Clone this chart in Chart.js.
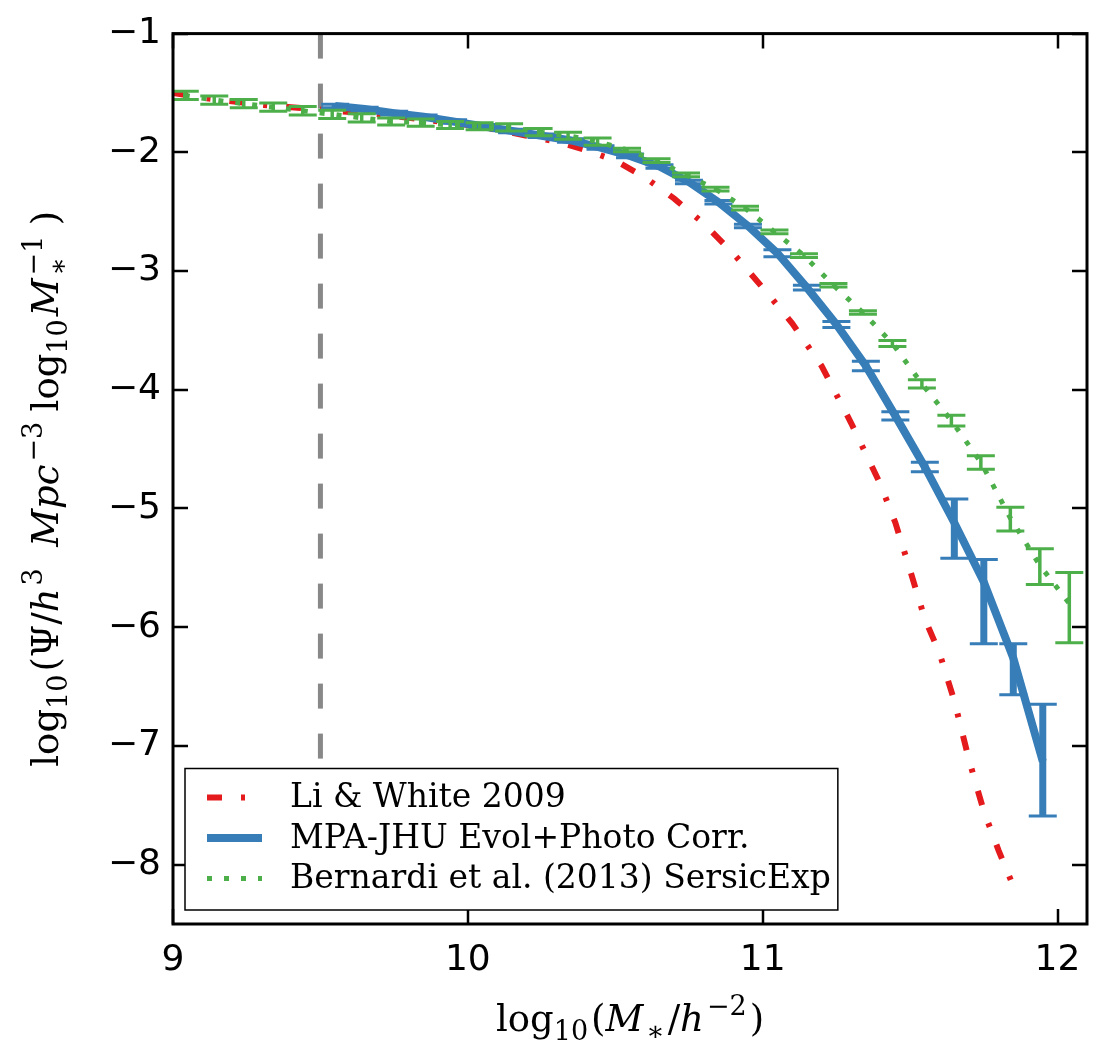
<!DOCTYPE html>
<html>
<head>
<meta charset="utf-8">
<script src="https://cdn.jsdelivr.net/npm/chart.js@4.4.1/dist/chart.umd.min.js"></script>
<style>
  html, body { margin: 0; padding: 0; background: #fff; }
  canvas { display: block; }
</style>
</head>
<body>
<canvas id="smfChart" width="1096" height="1048"></canvas>
<script>
// Li & White (2009) fit
var liWhiteX = [9.0, 9.1, 9.2, 9.3, 9.4, 9.5, 9.6, 9.7, 9.8, 9.9, 10.0, 10.1, 10.2, 10.3, 10.4, 10.5,
    10.6, 10.7, 10.8, 10.9, 11.0, 11.1, 11.2, 11.3, 11.4, 11.45, 11.5, 11.55, 11.6, 11.65, 11.7, 11.75, 11.8, 11.85];
var liWhiteY = [-1.50, -1.54, -1.57, -1.60, -1.62, -1.64, -1.66, -1.68, -1.71, -1.74, -1.77, -1.81, -1.86, -1.91, -1.98, -2.07,
    -2.21, -2.39, -2.60, -2.85, -3.14, -3.44, -3.80, -4.28, -4.80, -5.12, -5.52, -5.93, -6.22, -6.62, -7.12, -7.55, -7.88, -8.18];

// MPA-JHU with evolution + photometry corrections
var mpaX = [9.55, 9.65, 9.75, 9.85, 9.95, 10.05, 10.15, 10.25, 10.35, 10.45, 10.55, 10.65, 10.75,
    10.85, 10.95, 11.05, 11.15, 11.25, 11.35, 11.45, 11.55, 11.65, 11.75, 11.85, 11.95];
var mpaY = [-1.61, -1.635, -1.67, -1.70, -1.74, -1.78, -1.82, -1.86, -1.90, -1.96, -2.03, -2.12, -2.25,
    -2.42, -2.62, -2.85, -3.14, -3.45, -3.80, -4.22, -4.65, -5.12, -5.62, -6.26, -7.13];
var mpaErrLo = [0.015, 0.015, 0.015, 0.015, 0.015, 0.015, 0.015, 0.015, 0.015, 0.015, 0.015, 0.015, 0.015,
    0.015, 0.015, 0.03, 0.02, 0.025, 0.04, 0.035, 0.04, 0.30, 0.52, 0.31, 0.46];
var mpaErrHi = [0.015, 0.015, 0.015, 0.015, 0.015, 0.015, 0.015, 0.015, 0.015, 0.015, 0.015, 0.015, 0.015,
    0.015, 0.015, 0.03, 0.02, 0.025, 0.04, 0.035, 0.04, 0.20, 0.19, 0.12, 0.48];

// Bernardi et al. (2013), SersicExp photometry
var bernardiX = [9.04, 9.14, 9.24, 9.34, 9.44, 9.54, 9.64, 9.74, 9.84, 9.94, 10.04, 10.14, 10.24, 10.34, 10.44, 10.54,
    10.64, 10.74, 10.84, 10.94, 11.04, 11.14, 11.24, 11.34, 11.44, 11.54, 11.64, 11.74, 11.84, 11.94, 12.04];
var bernardiY = [-1.52, -1.56, -1.59, -1.62, -1.65, -1.68, -1.71, -1.74, -1.75, -1.77, -1.78, -1.79, -1.83, -1.86, -1.91, -1.98,
    -2.07, -2.19, -2.31, -2.47, -2.67, -2.87, -3.12, -3.35, -3.61, -3.95, -4.26, -4.61, -5.08, -5.48, -5.80];
var bernardiErrLo = [0.035, 0.035, 0.035, 0.035, 0.035, 0.035, 0.035, 0.03, 0.03, 0.03, 0.03, 0.03, 0.03, 0.03, 0.03, 0.015,
    0.015, 0.015, 0.015, 0.015, 0.015, 0.015, 0.015, 0.015, 0.025, 0.035, 0.045, 0.06, 0.11, 0.16, 0.33];
var bernardiErrHi = [0.035, 0.035, 0.035, 0.035, 0.035, 0.035, 0.035, 0.03, 0.03, 0.03, 0.03, 0.03, 0.03, 0.03, 0.03, 0.015,
    0.015, 0.015, 0.015, 0.015, 0.015, 0.015, 0.015, 0.015, 0.025, 0.035, 0.045, 0.055, 0.09, 0.14, 0.26];

// mass limit marker
var massLimit = 9.5;

// axes
var xMin = 9, xMax = 12.1;
var yMin = -8.5, yMax = -1;
var xTicks = [9, 10, 11, 12];
var xTickLabels = ['9', '10', '11', '12'];
var yTicks = [-8, -7, -6, -5, -4, -3, -2, -1];
var yTickLabels = ['\u22128', '\u22127', '\u22126', '\u22125', '\u22124', '\u22123', '\u22122', '\u22121'];

// math-style axis titles: [text, kind, extra]
var xTitleParts = [['log'], ['10', 'sub'], ['('], ['M', 'it'], ['\u2217', 'sub'], ['/'], ['h', 'it'], ['\u22122', 'sup'], [')']];
var yTitleParts = [['log'], ['10', 'sub'], ['(\u03a8/'], ['h', 'it'], ['3', 'sup'], ['\u2002'], ['Mpc', 'it'], ['\u22123', 'sup'],
    ['\u2009log'], ['10', 'sub'], ['M', 'it'], ['\u2217', 'subsup', '\u22121'], ['\u2009)']];

function points(xs, ys) {
    return xs.map(function (x, i) { return { x: x, y: ys[i] }; });
}

var SERIF = '"DejaVu Serif", "Liberation Serif", serif';

// error bars, drawn right after their own line
var errorBars = {
    id: 'errorBars',
    afterDatasetDraw: function (chart, args) {
        var ds = chart.data.datasets[args.index];
        if (!ds.errLo) return;
        var ctx = chart.ctx, a = chart.chartArea;
        var xs = chart.scales.x, ys = chart.scales.y;
        ctx.save();
        ctx.beginPath();
        ctx.rect(a.left, a.top, a.right - a.left, a.bottom - a.top);
        ctx.clip();
        ctx.strokeStyle = ds.borderColor;
        ds.data.forEach(function (p, i) {
            var px = xs.getPixelForValue(p.x);
            var top = ys.getPixelForValue(p.y + ds.errHi[i]);
            var bot = ys.getPixelForValue(p.y - ds.errLo[i]);
            ctx.lineWidth = ds.errWidth;
            ctx.beginPath();
            ctx.moveTo(px, top);
            ctx.lineTo(px, bot);
            ctx.stroke();
            ctx.lineWidth = ds.capWidth;
            ctx.beginPath();
            ctx.moveTo(px - ds.capHalf, top);
            ctx.lineTo(px + ds.capHalf, top);
            ctx.moveTo(px - ds.capHalf, bot);
            ctx.lineTo(px + ds.capHalf, bot);
            ctx.stroke();
        });
        ctx.restore();
    }
};

// box round the plot with inward ticks on all four sides
var frame = {
    id: 'frame',
    afterDatasetsDraw: function (chart) {
        var ctx = chart.ctx, a = chart.chartArea;
        var xs = chart.scales.x, ys = chart.scales.y;
        var len = 15;
        ctx.save();
        ctx.strokeStyle = '#000';
        ctx.lineWidth = 2.5;
        ctx.beginPath();
        xs.ticks.forEach(function (t) {
            var px = Math.round(xs.getPixelForValue(t.value));
            ctx.moveTo(px, a.bottom);
            ctx.lineTo(px, a.bottom - len);
            ctx.moveTo(px, a.top);
            ctx.lineTo(px, a.top + len);
        });
        ys.ticks.forEach(function (t) {
            var py = Math.round(ys.getPixelForValue(t.value));
            ctx.moveTo(a.left, py);
            ctx.lineTo(a.left + len, py);
            ctx.moveTo(a.right, py);
            ctx.lineTo(a.right - len, py);
        });
        ctx.stroke();
        ctx.lineWidth = 3;
        ctx.strokeRect(a.left, a.top, a.right - a.left, a.bottom - a.top);
        ctx.restore();
    }
};

// draws a run of text pieces with sub/superscripts, returns its width
function drawMath(ctx, parts, size, x, y, measureOnly) {
    var small = Math.round(size * 0.72);
    var gap = size * 0.08;
    var cx = x;
    parts.forEach(function (p) {
        var text = p[0], kind = p[1] || '';
        var dy = 0;
        if (kind === 'sub' || kind === 'subsup') {
            ctx.font = small + 'px ' + SERIF;
            dy = size * 0.24;
        } else if (kind === 'sup') {
            ctx.font = small + 'px ' + SERIF;
            dy = -size * 0.42;
        } else if (kind === 'it') {
            ctx.font = 'italic ' + size + 'px ' + SERIF;
        } else {
            ctx.font = size + 'px ' + SERIF;
        }
        var w = ctx.measureText(text).width;
        if (!measureOnly) ctx.fillText(text, cx, y + dy);
        if (kind === 'subsup') {
            var w2 = ctx.measureText(p[2]).width;
            if (!measureOnly) ctx.fillText(p[2], cx, y - size * 0.42);
            w = Math.max(w, w2);
        }
        cx += w + (kind ? gap : 0);
    });
    return cx - x;
}

var axisTitles = {
    id: 'axisTitles',
    afterDraw: function (chart) {
        var ctx = chart.ctx, a = chart.chartArea;
        var size = 37;
        ctx.save();
        ctx.fillStyle = '#000';
        ctx.textBaseline = 'alphabetic';
        ctx.textAlign = 'left';
        var wx = drawMath(ctx, xTitleParts, size, 0, 0, true);
        drawMath(ctx, xTitleParts, size, (a.left + a.right) / 2 - wx / 2, 1031, false);
        ctx.translate(58, (a.top + a.bottom) / 2 + 10);
        ctx.rotate(-Math.PI / 2);
        var wy = drawMath(ctx, yTitleParts, size, 0, 0, true);
        drawMath(ctx, yTitleParts, size, -wy / 2, 0, false);
        ctx.restore();
    }
};

// legend box in the lower left corner of the plot
var cornerLegend = {
    id: 'cornerLegend',
    afterDraw: function (chart) {
        var ctx = chart.ctx, a = chart.chartArea;
        var items = chart.data.datasets.filter(function (d) { return d.label; });
        var size = 33;
        ctx.save();
        ctx.font = size + 'px ' + SERIF;
        var textW = 0;
        items.forEach(function (d) { textW = Math.max(textW, ctx.measureText(d.label).width); });
        var left = a.left + 12, bottom = a.bottom - 14;
        var rowH = 40.5;
        var height = rowH * items.length + 20;
        var width = 105 + textW + 7;
        var top = bottom - height;
        ctx.fillStyle = '#fff';
        ctx.fillRect(left, top, width, height);
        ctx.strokeStyle = '#000';
        ctx.lineWidth = 1.5;
        ctx.strokeRect(left, top, width, height);
        items.forEach(function (d, i) {
            var cy = top + 29 + i * rowH;
            ctx.save();
            ctx.strokeStyle = d.borderColor;
            ctx.lineWidth = d.borderWidth;
            ctx.setLineDash(d.borderDash || []);
            ctx.beginPath();
            ctx.moveTo(left + 22, cy);
            ctx.lineTo(left + 77, cy);
            ctx.stroke();
            ctx.restore();
            ctx.fillStyle = '#000';
            ctx.textBaseline = 'middle';
            ctx.fillText(d.label, left + 105, cy + 1);
        });
        ctx.restore();
    }
};

var ctx = document.getElementById('smfChart').getContext('2d');
var smfChart = new Chart(ctx, {
    type: 'line',
    data: {
        datasets: [
            {
                label: 'Li & White 2009',
                data: points(liWhiteX, liWhiteY),
                borderColor: '#e41a1c',
                borderWidth: 6,
                borderDash: [15, 19, 4, 19],
                pointRadius: 0,
                order: 3
            },
            {
                label: 'MPA-JHU Evol+Photo Corr.',
                data: points(mpaX, mpaY),
                borderColor: '#377eb8',
                borderWidth: 8,
                pointRadius: 0,
                errLo: mpaErrLo,
                errHi: mpaErrHi,
                errWidth: 7,
                capWidth: 3,
                capHalf: 14,
                order: 2
            },
            {
                label: 'Bernardi et al. (2013) SersicExp',
                data: points(bernardiX, bernardiY),
                borderColor: '#4daf4a',
                borderWidth: 5,
                borderDash: [5, 12],
                pointRadius: 0,
                errLo: bernardiErrLo,
                errHi: bernardiErrHi,
                errWidth: 3.5,
                capWidth: 3,
                capHalf: 14,
                order: 1
            },
            {
                label: '',
                data: [{ x: massLimit, y: yMax }, { x: massLimit, y: yMin }],
                borderColor: '#888888',
                borderWidth: 5,
                borderDash: [25, 25],
                pointRadius: 0,
                order: 4
            }
        ]
    },
    options: {
        responsive: false,
        animation: false,
        devicePixelRatio: 1,
        layout: { padding: { left: 0, right: 9, top: 28, bottom: 0 } },
        plugins: {
            legend: { display: false },
            tooltip: { enabled: false }
        },
        scales: {
            x: {
                type: 'linear',
                min: xMin,
                max: xMax,
                afterBuildTicks: function (scale) {
                    scale.ticks = xTicks.map(function (v) { return { value: v }; });
                },
                afterFit: function (scale) { scale.height = 124; },
                ticks: {
                    color: '#000',
                    padding: 15,
                    maxRotation: 0,
                    font: { family: '"DejaVu Sans", sans-serif', size: 36 },
                    callback: function (value) { return xTickLabels[xTicks.indexOf(value)]; }
                },
                grid: { display: false, drawTicks: false },
                border: { display: false }
            },
            y: {
                type: 'linear',
                min: yMin,
                max: yMax,
                afterBuildTicks: function (scale) {
                    scale.ticks = yTicks.map(function (v) { return { value: v }; });
                },
                afterFit: function (scale) { scale.width = 173; },
                ticks: {
                    color: '#000',
                    padding: 12,
                    font: { family: '"DejaVu Sans", sans-serif', size: 36 },
                    callback: function (value) { return yTickLabels[yTicks.indexOf(value)]; }
                },
                grid: { display: false, drawTicks: false },
                border: { display: false }
            }
        }
    },
    plugins: [errorBars, frame, axisTitles, cornerLegend]
});
</script>
</body>
</html>
